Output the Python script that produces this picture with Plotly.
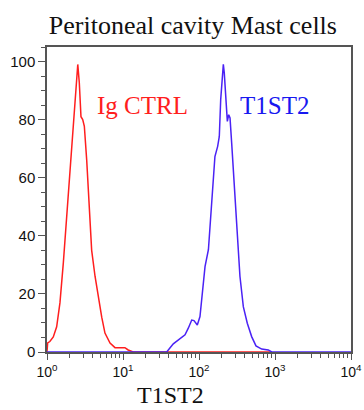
import plotly.graph_objects as go

# ---- data ----
title_text = "Peritoneal cavity Mast cells"
x_title = "T1ST2"
label_ctrl = "Ig CTRL"
label_t1st2 = "T1ST2"

ctrl_x = [1.0, 1.02, 1.09, 1.21, 1.34, 1.48, 1.64, 1.82, 2.01, 2.22, 2.41, 2.54, 2.66,
          2.80, 2.95, 3.10, 3.33, 3.61, 3.87, 4.29, 4.73, 5.25, 5.79, 6.75, 7.85, 10.6,
          11.7, 13.0, 13.6, 859]
ctrl_y = [0, 3.1, 3.6, 5.2, 8.7, 16.9, 30.7, 46.7, 60.4, 75.4, 90.3, 99, 92.8,
          81, 80, 77.7, 66, 49, 35, 26, 19, 12, 6.5, 3.1, 1.5, 1.5,
          0.7, 0.3, 0, 0]

t1_x = [1.0, 37.6, 45.9, 56.2, 65.5, 72.3, 80.2, 85.9, 95.0, 103, 110, 120, 133, 143,
        151, 162, 176, 185, 193, 203, 209, 215, 227, 236, 246, 256, 269, 289, 313,
        346, 383, 432, 493, 562, 668, 816, 906, 10000]
t1_y = [0, 0, 2.8, 4.5, 5.9, 8.2, 11, 10.8, 9.3, 12.2, 19, 29.4, 35.2, 46.7,
        58.2, 67.3, 70.8, 74.2, 86.9, 96.1, 99, 96.1, 86.9, 79.4, 81.7, 80.6, 72, 58.2, 43.2,
        26, 15.6, 9.9, 5.3, 2.1, 1, 0.7, 0, 0]

x_tickvals = [1, 10, 100, 1000, 10000]
x_ticktext = ["10<sup>0</sup>", "10<sup>1</sup>", "10<sup>2</sup>", "10<sup>3</sup>", "10<sup>4</sup>"]
y_tickvals = [0, 20, 40, 60, 80, 100]

RED = "#FF1E1E"
BLUE_LINE = "#4A22F5"
BLUE_TEXT = "#1818F0"
FRAME = "#555555"

minor_x = [m * 10 ** d for d in range(4) for m in range(2, 10)]

fig = go.Figure()
fig.add_trace(go.Scatter(x=ctrl_x, y=ctrl_y, mode="lines",
                         line=dict(color=RED, width=1.5), showlegend=False))
fig.add_trace(go.Scatter(x=t1_x, y=t1_y, mode="lines",
                         line=dict(color=BLUE_LINE, width=1.5), showlegend=False))

fig.update_layout(
    width=364, height=410,
    margin=dict(l=47, r=13, t=47, b=58),
    paper_bgcolor="white", plot_bgcolor="white",
    title=dict(text=title_text, x=0.53, xanchor="center", y=0.94, yanchor="middle",
               font=dict(family="Liberation Serif", size=26, color="#111")),
    xaxis=dict(type="log", range=[0, 4], tickvals=x_tickvals, ticktext=x_ticktext,
               ticks="outside", ticklen=6, tickcolor=FRAME, showgrid=False, automargin=False,
               zeroline=False, showline=True, linecolor=FRAME, linewidth=1.5, mirror=True,
               tickfont=dict(family="Liberation Sans", size=14, color="#111"),
               minor=dict(tickvals=minor_x, ticks="outside", ticklen=4, tickcolor=FRAME,
                          showgrid=False)),
    yaxis=dict(range=[0, 105], tickvals=y_tickvals, ticks="outside", ticklen=7,
               tickcolor=FRAME, showgrid=False, zeroline=False, showline=True, automargin=False,
               linecolor=FRAME, linewidth=1.5, mirror=True,
               tickfont=dict(family="Liberation Sans", size=15, color="#111"),
               minor=dict(dtick=5, ticks="outside", ticklen=4, tickcolor=FRAME,
                          showgrid=False)),
    annotations=[
        dict(x=0.63, y=85, xref="x", yref="y", text=label_ctrl, showarrow=False,
             xanchor="left", yanchor="middle",
             font=dict(family="Liberation Serif", size=25, color=RED)),
        dict(x=2.51, y=85, xref="x", yref="y", text=label_t1st2, showarrow=False,
             xanchor="left", yanchor="middle",
             font=dict(family="Liberation Serif", size=25, color=BLUE_TEXT)),
        dict(x=0.405, y=-0.188, xref="paper", yref="paper", text=x_title, showarrow=False,
             xanchor="center", yanchor="bottom", borderpad=0,
             font=dict(family="Liberation Serif", size=24, color="#111")),
    ],
)

fig.write_html("out.html")
